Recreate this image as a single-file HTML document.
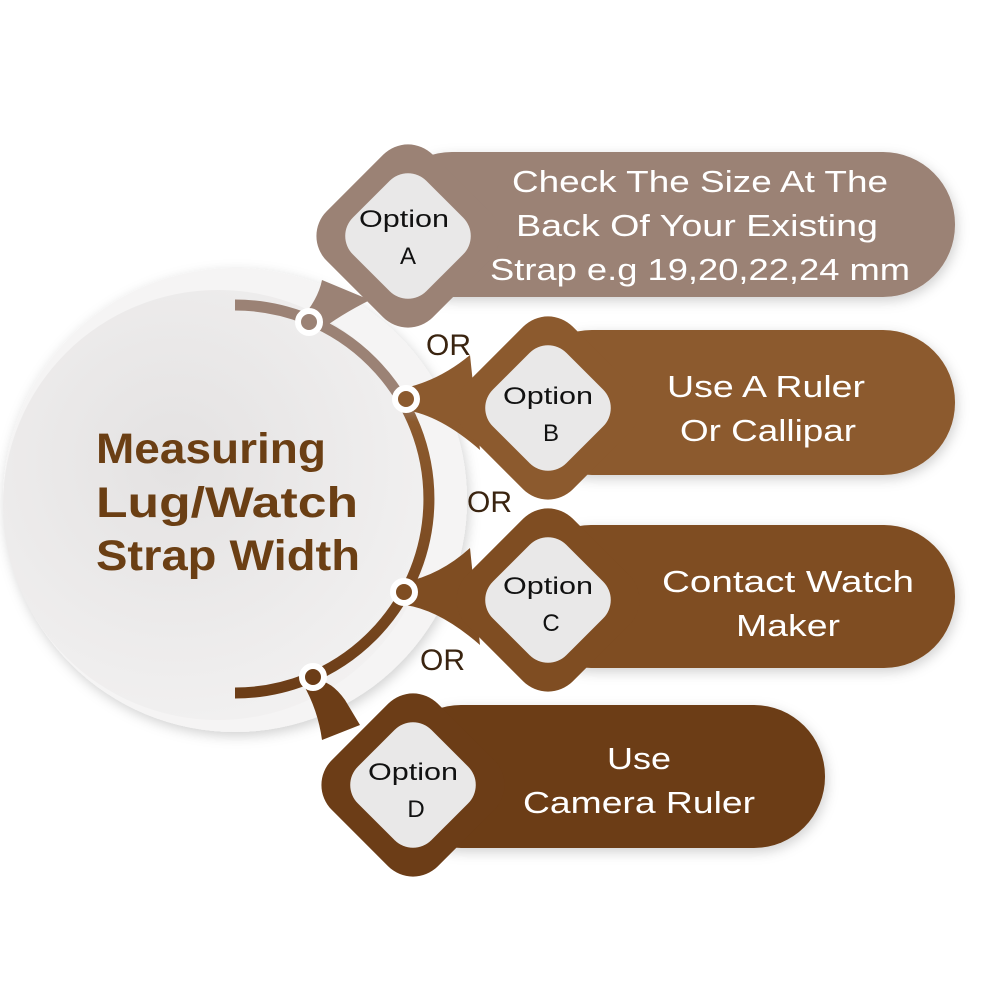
<!DOCTYPE html>
<html><head><meta charset="utf-8"><style>
html,body{margin:0;padding:0;background:#fff;width:1000px;height:1000px;overflow:hidden}
svg{display:block}
</style></head><body>
<svg width="1000" height="1000" viewBox="0 0 1000 1000" xmlns="http://www.w3.org/2000/svg" font-family="Liberation Sans, sans-serif">
<defs>
<radialGradient id="cg" cx="0.4" cy="0.4" r="0.7">
<stop offset="0" stop-color="#e4e2e2"/><stop offset="1" stop-color="#f3f2f2"/></radialGradient>
<linearGradient id="arcg" x1="0" y1="0" x2="0" y2="1">
<stop offset="0" stop-color="#9b8275"/><stop offset="0.25" stop-color="#9b8275"/><stop offset="0.3" stop-color="#8c5a2e"/><stop offset="1" stop-color="#6c3d17"/></linearGradient>
<filter id="sh" x="-20%" y="-20%" width="140%" height="140%"><feDropShadow dx="2" dy="4" stdDeviation="6" flood-color="#000" flood-opacity="0.18"/></filter>
</defs>
<circle cx="235" cy="500" r="232" fill="#f5f4f4" filter="url(#sh)"/>
<circle cx="218" cy="505" r="215" fill="url(#cg)"/>

<rect x="380" y="152" width="575" height="145" rx="72" fill="#9b8275" filter="url(#sh)"/>
<rect x="520" y="330" width="435" height="145" rx="72" fill="#8c5a2e" filter="url(#sh)"/>
<rect x="520" y="525" width="435" height="143" rx="71" fill="#7f4d22" filter="url(#sh)"/>
<rect x="390" y="705" width="435" height="143" rx="71" fill="#6c3d17" filter="url(#sh)"/>

<path d="M300,320 Q318,300 322,280 L370,300 Q340,315 318,332 Z" fill="#9b8275"/>
<path d="M405,388 Q440,380 470,355 L480,450 Q440,415 405,410 Z" fill="#8c5a2e"/>
<path d="M405,582 Q440,575 470,548 L480,645 Q440,610 405,605 Z" fill="#7f4d22"/>
<path d="M303,684 Q325,672 345,700 L360,725 L322,740 Q318,710 303,684 Z" fill="#6c3d17"/>

<g transform="translate(408,236) rotate(45)"><rect x="-75" y="-75" width="150" height="150" rx="35" fill="#9b8275"/><rect x="-52" y="-52" width="104" height="104" rx="26" fill="#e9e8e8"/></g>
<g transform="translate(548,408) rotate(45)"><rect x="-75" y="-75" width="150" height="150" rx="35" fill="#8c5a2e"/><rect x="-52" y="-52" width="104" height="104" rx="26" fill="#e9e8e8"/></g>
<g transform="translate(548,600) rotate(45)"><rect x="-75" y="-75" width="150" height="150" rx="35" fill="#7f4d22"/><rect x="-52" y="-52" width="104" height="104" rx="26" fill="#e9e8e8"/></g>
<g transform="translate(413,785) rotate(45)"><rect x="-75" y="-75" width="150" height="150" rx="35" fill="#6c3d17"/><rect x="-52" y="-52" width="104" height="104" rx="26" fill="#e9e8e8"/></g>

<path d="M235,305 A194,194 0 0 1 235,693" fill="none" stroke="url(#arcg)" stroke-width="11"/>

<g stroke="#fff" stroke-width="6">
<circle cx="309" cy="322" r="11" fill="#9b8275"/>
<circle cx="406" cy="399" r="11" fill="#8c5a2e"/>
<circle cx="404" cy="592" r="11" fill="#7f4d22"/>
<circle cx="313" cy="677" r="11" fill="#6c3d17"/>
</g>

<g fill="#6b3f14" font-weight="bold" font-size="43">
<text x="96" y="463" textLength="230" lengthAdjust="spacingAndGlyphs">Measuring</text>
<text x="96" y="517" textLength="262" lengthAdjust="spacingAndGlyphs">Lug/Watch</text>
<text x="96" y="570" textLength="264" lengthAdjust="spacingAndGlyphs">Strap Width</text>
</g>

<g fill="#3a2410" font-size="30">
<text x="426" y="355">OR</text>
<text x="467" y="512">OR</text>
<text x="420" y="670">OR</text>
</g>

<g fill="#111" font-size="24" text-anchor="middle">
<text x="404" y="227" textLength="90" lengthAdjust="spacingAndGlyphs">Option</text><text x="408" y="264">A</text>
<text x="548" y="404" textLength="90" lengthAdjust="spacingAndGlyphs">Option</text><text x="551" y="441">B</text>
<text x="548" y="594" textLength="90" lengthAdjust="spacingAndGlyphs">Option</text><text x="551" y="631">C</text>
<text x="413" y="780" textLength="90" lengthAdjust="spacingAndGlyphs">Option</text><text x="416" y="817">D</text>
</g>

<g fill="#fff" font-size="31" text-anchor="middle" lengthAdjust="spacingAndGlyphs">
<text x="700" y="192" textLength="376" lengthAdjust="spacingAndGlyphs">Check The Size At The</text>
<text x="697" y="236" textLength="362" lengthAdjust="spacingAndGlyphs">Back Of Your Existing</text>
<text x="700" y="280" textLength="420" lengthAdjust="spacingAndGlyphs">Strap e.g 19,20,22,24 mm</text>
<text x="766" y="397" textLength="198" lengthAdjust="spacingAndGlyphs">Use A Ruler</text>
<text x="768" y="441" textLength="176" lengthAdjust="spacingAndGlyphs">Or Callipar</text>
<text x="788" y="592" textLength="252" lengthAdjust="spacingAndGlyphs">Contact Watch</text>
<text x="788" y="636" textLength="104" lengthAdjust="spacingAndGlyphs">Maker</text>
<text x="639" y="769" textLength="64" lengthAdjust="spacingAndGlyphs">Use</text>
<text x="639" y="813" textLength="232" lengthAdjust="spacingAndGlyphs">Camera Ruler</text>
</g>
</svg>
</body></html>
